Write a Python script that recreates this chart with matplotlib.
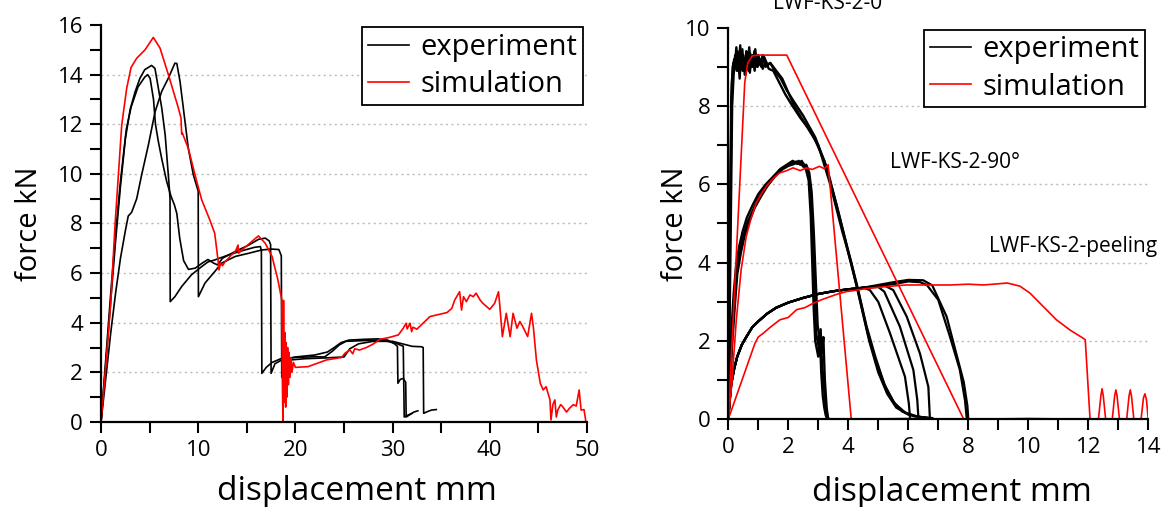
import matplotlib
matplotlib.use("Agg")
import matplotlib.pyplot as plt
from matplotlib.lines import Line2D
from matplotlib.ticker import MultipleLocator

plt.rcParams['font.family'] = ['Open Sans', 'DejaVu Sans']

# ---------------- left panel: experiments (black) ----------------
expA_x = [0, 0.5, 1.0, 1.5, 2.0, 2.6, 3.1, 3.8, 4.5, 4.8, 5.05, 5.4, 5.6, 5.9, 6.25, 6.75, 7.2, 7.55,
          7.8, 8.1, 8.5, 9.0, 9.7, 10.4, 11.0, 11.6, 12.0, 12.5, 13.8, 15.2, 16.2, 16.9, 17.3, 17.45,
          17.5, 17.9, 18.6, 20.0, 22.0, 23.3, 24.0, 24.7, 25.5, 27.0, 28.5, 29.5, 30.2, 30.5, 30.55,
          30.8, 31.1, 31.35, 31.4, 31.8, 32.2, 32.6]
expA_y = [0, 2.6, 5.2, 7.6, 9.7, 11.8, 12.7, 13.5, 13.9, 14.0, 13.85, 13.0, 12.0, 11.3, 10.6, 9.7, 9.1,
          8.75, 8.4, 7.4, 6.5, 6.15, 6.2, 6.4, 6.55, 6.4, 6.33, 6.6, 6.87, 7.13, 7.36, 7.41, 7.3, 7.15,
          1.96, 2.35, 2.5, 2.62, 2.7, 2.82, 3.0, 3.2, 3.3, 3.33, 3.35, 3.3, 3.15, 3.05, 1.56, 1.72,
          1.75, 1.6, 0.2, 0.3, 0.4, 0.45]

expB_x = [0, 0.5, 1, 1.5, 2, 2.5, 3, 3.5, 4, 4.5, 5.2, 5.55, 5.9, 6.25, 6.6, 7.0, 7.1, 7.12, 7.6, 8.3,
          9.3, 10.35, 11.0, 11.7, 13.1, 14.5, 15.8, 16.4, 16.5, 16.55, 17.0, 17.6, 18.5, 20.0, 22.0,
          23.0, 23.8, 24.5, 25.2, 27.0, 29.0, 30.5, 31.1, 31.2, 31.6, 32.0]
expB_y = [0, 2.4, 4.9, 7.3, 9.5, 11.4, 12.6, 13.3, 13.85, 14.2, 14.37, 14.25, 13.45, 12.65, 11.57, 9.57,
          9.0, 4.85, 5.05, 5.46, 5.93, 6.26, 6.45, 6.53, 6.73, 6.9, 7.04, 7.07, 6.9, 1.96, 2.2, 2.4,
          2.55, 2.6, 2.63, 2.62, 2.85, 3.1, 3.25, 3.28, 3.3, 3.15, 3.05, 0.2, 0.28, 0.35]

expC_x = [0, 0.5, 1.0, 1.5, 2.0, 2.5, 2.8, 3.15, 3.67, 4.18, 4.87, 5.56, 6.24, 6.93, 7.6, 7.8, 8.13,
          8.47, 8.98, 9.5, 10.0, 10.02, 10.7, 11.7, 12.4, 13.8, 15.2, 16.5, 17.5, 18.3, 18.55, 18.6,
          18.9, 19.5, 21.0, 23.0, 24.0, 25.0, 25.6, 26.5, 28.0, 30.0, 31.0, 32.0, 33.0, 33.15, 33.2,
          33.6, 34.0, 34.5]
expC_y = [0, 1.8, 3.6, 5.2, 6.6, 7.7, 8.3, 8.45, 9.0, 9.96, 11.16, 12.5, 13.32, 13.86, 14.46, 14.45,
          13.72, 12.65, 11.03, 9.96, 9.3, 5.05, 5.6, 6.06, 6.4, 6.67, 6.8, 6.93, 6.97, 6.95, 6.7, 1.8,
          2.3, 2.5, 2.55, 2.58, 2.6, 2.62, 2.95, 3.15, 3.25, 3.25, 3.15, 3.05, 3.03, 3.0, 0.35, 0.42,
          0.48, 0.5]

# ---------------- left panel: simulation (red) ----------------
simL_x = [0, 0.5, 1.0, 1.44, 2.13, 2.64, 3.09, 3.67, 4.53, 5.38, 6.07, 6.93, 7.96, 8.23, 8.3, 8.37,
          8.98, 9.67, 10.36, 11.2, 11.7, 12.1, 12.14, 12.3, 12.5, 12.76, 13.0, 13.4, 13.8, 14.1, 14.15,
          14.47, 15.0, 15.5, 16.2, 16.9, 17.6, 18.2, 18.6, 18.65, 18.72, 18.78, 18.85, 18.92, 19.0,
          19.05, 19.12, 19.2, 19.28, 19.35, 19.45, 19.55, 19.65, 19.8, 20.0, 21.3, 23.2, 24.76, 25.1,
          25.6, 25.9, 26.1, 26.6, 27.3, 28.0, 28.7, 29.7, 30.6, 31.1, 31.4, 31.5, 31.8, 31.96, 32.1,
          32.5, 33.85, 35.6, 36.1, 36.4, 36.9, 37.1, 37.3, 37.6, 37.96, 38.3, 38.6, 39.0, 39.3, 40.0,
          40.5, 40.9, 41.0, 41.3, 41.7, 42.1, 42.4, 42.8, 43.1, 43.4, 43.9, 44.3, 44.5, 44.8, 45.2,
          45.5, 45.8, 46.2, 46.3, 46.5, 46.7, 46.85, 47.0, 47.3, 47.5, 47.9, 48.2, 48.6, 48.9, 49.2,
          49.4, 49.7, 49.9]
simL_y = [0, 2.3, 4.8, 7.94, 11.97, 13.45, 14.29, 14.66, 15.0, 15.5, 15.07, 14.0, 12.65, 12.25, 11.6,
          11.64, 11.03, 9.96, 8.95, 8.14, 7.6, 6.33, 6.13, 6.4, 6.3, 6.46, 6.55, 6.73, 6.85, 7.13, 6.8,
          6.93, 7.1, 7.27, 7.5, 7.2, 6.67, 5.73, 4.92, 2.0, 0.0, 4.9, 0.8, 3.6, 0.6, 3.2, 1.0, 3.0, 1.5,
          2.8, 1.8, 2.6, 2.0, 2.4, 2.2, 2.23, 2.5, 2.6, 2.77, 2.9, 2.75, 2.95, 2.9, 3.0, 3.14, 3.33,
          3.41, 3.51, 3.78, 3.98, 3.75, 3.98, 3.64, 3.82, 3.74, 4.25, 4.41, 4.58, 4.92, 5.25, 4.51,
          5.05, 4.85, 5.12, 5.05, 5.19, 4.92, 4.78, 4.54, 4.78, 5.25, 4.85, 3.44, 4.38, 3.44, 4.38,
          3.78, 4.05, 3.84, 3.44, 4.38, 3.78, 2.5, 1.56, 1.29, 1.42, 0.89, 0.08, 0.7, 0.89, 0.2, 0.48,
          0.7, 0.62, 0.4, 0.55, 0.7, 0.64, 1.29, 0.48, 0.5, 0.0]

# ---------------- right panel: experiments (black) ----------------
e0_a_x = [0, 0.05, 0.1, 0.15, 0.2, 0.25, 0.3, 0.35, 0.4, 0.45, 0.5, 0.55, 0.6, 0.65, 0.7, 0.75, 0.8,
          0.85, 0.9, 0.95, 1.0, 1.1, 1.2, 1.3, 1.4, 1.6, 1.8, 2.0, 2.2, 2.6, 3.0, 3.4, 3.8, 4.1, 4.4,
          4.7, 5.0, 5.3, 5.6, 6.0, 6.4, 6.8]
e0_a_y = [0, 4.5, 8.2, 9.0, 9.2, 9.0, 9.4, 9.1, 9.55, 9.0, 9.3, 8.8, 9.4, 9.1, 9.5, 9.0, 9.3, 9.0,
          9.45, 9.1, 9.3, 9.0, 9.25, 9.05, 9.1, 8.9, 8.7, 8.35, 8.0, 7.5, 7.0, 6.0, 4.8, 4.0, 3.0, 2.0,
          1.2, 0.65, 0.3, 0.12, 0.05, 0.03]
e0_b_x = [0, 0.07, 0.13, 0.18, 0.23, 0.28, 0.33, 0.38, 0.43, 0.48, 0.53, 0.58, 0.63, 0.68, 0.73, 0.78,
          0.83, 0.88, 0.93, 0.98, 1.05, 1.15, 1.25, 1.35, 1.5, 1.7, 1.9, 2.1, 2.4, 2.8, 3.2, 3.6, 4.0,
          4.3, 4.6, 4.9, 5.2, 5.5, 5.8, 6.2, 6.6]
e0_b_y = [0, 4.0, 8.0, 8.8, 9.3, 8.9, 9.2, 8.7, 9.35, 8.9, 9.2, 8.8, 9.3, 8.9, 9.35, 9.0, 9.2, 8.9,
          9.3, 9.0, 9.2, 8.95, 9.15, 8.95, 8.9, 8.6, 8.3, 8.05, 7.7, 7.3, 6.6, 5.5, 4.3, 3.4, 2.4, 1.6,
          0.9, 0.45, 0.2, 0.08, 0.04]
e0_c_x = [0, 0.06, 0.12, 0.17, 0.22, 0.27, 0.32, 0.37, 0.42, 0.47, 0.52, 0.57, 0.62, 0.67, 0.72, 0.77,
          0.82, 0.87, 0.92, 0.97, 1.05, 1.15, 1.25, 1.4, 1.55, 1.75, 1.95, 2.2, 2.5, 2.9, 3.3, 3.7,
          4.05, 4.35, 4.65, 4.95, 5.25, 5.55, 5.9, 6.3, 6.7]
e0_c_y = [0, 5.0, 8.6, 9.1, 9.0, 9.5, 8.9, 9.3, 9.1, 9.45, 8.9, 9.2, 9.0, 9.35, 8.85, 9.2, 9.0, 9.4,
          9.0, 9.25, 9.05, 9.3, 9.0, 9.1, 8.9, 8.7, 8.4, 8.1, 7.75, 7.2, 6.4, 5.2, 4.1, 3.2, 2.2, 1.4,
          0.8, 0.4, 0.17, 0.07, 0.03]

e90_a_x = [0, 0.06, 0.11, 0.2, 0.28, 0.4, 0.5, 0.65, 0.83, 1.0, 1.27, 1.5, 1.71, 1.9, 2.1, 2.27, 2.4,
           2.5, 2.6, 2.68, 2.75, 2.8, 2.85, 2.9, 2.95, 3.0, 3.05, 3.1, 3.15, 3.2, 3.25, 3.3]
e90_a_y = [0, 0.84, 2.0, 3.0, 3.82, 4.3, 4.67, 5.05, 5.35, 5.65, 5.95, 6.15, 6.37, 6.45, 6.55, 6.58,
           6.5, 6.54, 6.35, 6.1, 5.2, 4.0, 2.8, 2.0, 1.8, 1.6, 2.2, 1.2, 0.6, 0.3, 0.1, 0]
e90_b_x = [0, 0.05, 0.1, 0.18, 0.26, 0.36, 0.48, 0.62, 0.8, 1.0, 1.25, 1.5, 1.75, 1.95, 2.15, 2.3, 2.45,
           2.55, 2.62, 2.7, 2.76, 2.82, 2.88, 2.93, 3.0, 3.08, 3.12, 3.18, 3.24, 3.3, 3.35]
e90_b_y = [0, 1.0, 2.2, 3.2, 3.9, 4.4, 4.8, 5.15, 5.45, 5.75, 6.0, 6.2, 6.4, 6.5, 6.6, 6.52, 6.6, 6.45,
           6.4, 6.2, 5.6, 4.4, 3.2, 2.2, 1.9, 2.3, 1.5, 0.9, 0.4, 0.1, 0]
e90_c_x = [0, 0.07, 0.12, 0.22, 0.3, 0.42, 0.55, 0.7, 0.88, 1.1, 1.3, 1.55, 1.8, 2.0, 2.2, 2.35, 2.5,
           2.6, 2.7, 2.78, 2.85, 2.92, 2.98, 3.05, 3.12, 3.17, 3.22, 3.28, 3.33]
e90_c_y = [0, 0.8, 1.8, 2.9, 3.7, 4.25, 4.7, 5.05, 5.4, 5.7, 5.95, 6.2, 6.38, 6.47, 6.52, 6.6, 6.45,
           6.5, 6.3, 5.8, 4.8, 3.5, 2.4, 2.0, 1.7, 2.1, 1.0, 0.3, 0]

peel_rise_x = [0, 0.05, 0.1, 0.2, 0.3, 0.45, 0.6, 0.8, 1.0, 1.3, 1.6, 2.0, 2.5, 3.0, 3.5, 4.0, 4.5]
peel_rise_y = [0, 0.5, 0.9, 1.3, 1.6, 1.9, 2.1, 2.35, 2.5, 2.7, 2.85, 2.98, 3.1, 3.2, 3.27, 3.32, 3.36]
peel_tail1_x = [4.72, 5.0, 5.39, 5.89, 6.02, 6.06]
peel_tail1_y = [3.3, 3.0, 2.2, 1.09, 0.4, 0.02]
peel_tail2_x = [5.0, 5.2, 5.72, 6.17, 6.3, 6.34]
peel_tail2_y = [3.38, 3.26, 2.37, 1.26, 0.5, 0.02]
peel_tail3_x = [5.2, 5.5, 5.95, 6.39, 6.67, 6.72]
peel_tail3_y = [3.42, 3.3, 2.62, 1.68, 0.83, 0.04]
peel_tail4_x = [5.5, 6.0, 6.4, 6.62, 7.0, 7.39, 7.72, 7.89, 7.95]
peel_tail4_y = [3.45, 3.52, 3.5, 3.43, 3.05, 2.11, 1.26, 0.49, 0.02]
peel_tail5_x = [5.5, 6.0, 6.5, 6.8, 7.28, 7.6, 7.85, 7.97, 8.0]
peel_tail5_y = [3.5, 3.56, 3.55, 3.42, 2.62, 1.68, 0.95, 0.35, 0.02]

# ---------------- right panel: simulations (red) ----------------
sim0_x = [0, 0.55, 0.65, 0.8, 1.0, 1.95, 7.85]
sim0_y = [0, 8.6, 9.1, 9.28, 9.3, 9.3, 0]
sim90_x = [0, 0.11, 0.27, 0.43, 0.6, 0.75, 0.93, 1.1, 1.27, 1.5, 1.71, 1.95, 2.16, 2.4, 2.6, 2.8,
           3.04, 3.2, 3.33, 4.1, 6.0, 8.0, 10.0, 12.0, 14.0]
sim90_y = [0, 0.84, 2.55, 3.82, 4.67, 5.1, 5.52, 5.75, 5.95, 6.15, 6.29, 6.35, 6.42, 6.35, 6.42, 6.38,
           6.46, 6.4, 6.5, 0, 0.02, 0, 0.02, 0, 0]
simP_x = [0, 0.89, 1.0, 1.17, 1.4, 1.72, 2.0, 2.28, 2.55, 2.83, 3.1, 3.39, 3.65, 3.94, 4.3, 4.61,
          5.28, 5.94, 6.6, 7.4, 8.0, 8.5, 9.0, 9.3, 9.72, 10.06, 10.5, 10.94, 11.39, 11.83, 11.9,
          12.06, 12.34, 12.42, 12.46, 12.5, 12.58, 12.8, 12.88, 12.92, 12.96, 13.04, 13.28, 13.36,
          13.4, 13.44, 13.52, 13.76, 13.84, 13.89, 13.94, 14.0]
simP_y = [0, 1.94, 2.1, 2.2, 2.35, 2.54, 2.6, 2.8, 2.85, 2.96, 3.05, 3.13, 3.2, 3.26, 3.3, 3.34, 3.39,
          3.43, 3.43, 3.43, 3.45, 3.43, 3.46, 3.48, 3.4, 3.22, 2.88, 2.54, 2.28, 2.07, 2.03, 0, 0,
          0.6, 0.78, 0.6, 0, 0, 0.6, 0.75, 0.6, 0, 0, 0.6, 0.75, 0.6, 0, 0, 0.55, 0.65, 0.5, 0]

grid_left = [2, 4, 6, 8, 10, 12, 14]
grid_right = [2, 4, 6, 8]

fig = plt.figure(figsize=(11.68, 5.07), dpi=100)
ax1 = fig.add_axes([0.0865, 0.1677, 0.416, 0.783])
ax2 = fig.add_axes([0.6235, 0.173, 0.3596, 0.7724])

ax1.plot(expA_x, expA_y, color='black', lw=1.2)
ax1.plot(expB_x, expB_y, color='black', lw=1.2)
ax1.plot(expC_x, expC_y, color='black', lw=1.2)
ax1.plot(simL_x, simL_y, color='red', lw=1.2)

for xs, ys in [(e0_a_x, e0_a_y), (e0_b_x, e0_b_y), (e0_c_x, e0_c_y),
               (e90_a_x, e90_a_y), (e90_b_x, e90_b_y), (e90_c_x, e90_c_y)]:
    ax2.plot(xs, ys, color='black', lw=1.7)
for tx, ty in [(peel_tail1_x, peel_tail1_y), (peel_tail2_x, peel_tail2_y), (peel_tail3_x, peel_tail3_y),
               (peel_tail4_x, peel_tail4_y), (peel_tail5_x, peel_tail5_y)]:
    ax2.plot(peel_rise_x + tx, peel_rise_y + ty, color='black', lw=1.6)
ax2.plot(sim0_x, sim0_y, color='red', lw=1.2)
ax2.plot(sim90_x, sim90_y, color='red', lw=1.2)
ax2.plot(simP_x, simP_y, color='red', lw=1.2)

ax1.set_xlim(0, 50)
ax1.set_ylim(0, 16)
ax1.xaxis.set_major_locator(MultipleLocator(10))
ax1.xaxis.set_minor_locator(MultipleLocator(5))
ax1.yaxis.set_major_locator(MultipleLocator(2))
ax1.yaxis.set_minor_locator(MultipleLocator(1))

ax2.set_xlim(0, 14)
ax2.set_ylim(0, 10)
ax2.xaxis.set_major_locator(MultipleLocator(2))
ax2.xaxis.set_minor_locator(MultipleLocator(1))
ax2.yaxis.set_major_locator(MultipleLocator(2))
ax2.yaxis.set_minor_locator(MultipleLocator(1))

for ax, gl in ((ax1, grid_left), (ax2, grid_right)):
    for g in gl:
        ax.axhline(g, linestyle=(0, (1.5, 2.5)), color='#bbbbbb', lw=1, zorder=0)
    for s in ('top', 'right'):
        ax.spines[s].set_visible(False)
    for s in ('left', 'bottom'):
        ax.spines[s].set_linewidth(1.6)
    ax.tick_params(which='both', direction='out', length=8, width=1.5, labelsize=16, pad=5)
    ax.set_xlabel('displacement mm', fontsize=24)
    ax.set_ylabel('force kN', fontsize=21)
    handles = [Line2D([], [], color='black', lw=1.2), Line2D([], [], color='red', lw=1.2)]
    leg = ax.legend(handles, ['experiment', 'simulation'], loc='upper right', fontsize=21,
                    fancybox=False, framealpha=1, edgecolor='black', handlelength=1.4,
                    borderaxespad=0, labelspacing=0.28, handletextpad=0.4, borderpad=0.2,
                    bbox_to_anchor=(0.992, 0.995))
    leg.get_frame().set_linewidth(1.3)

ax1.xaxis.set_label_coords(0.527, -0.133)
ax2.xaxis.set_label_coords(0.533, -0.145)
ax1.yaxis.set_label_coords(-0.117, 0.5)
ax2.yaxis.set_label_coords(-0.092, 0.5)

ax2.text(5.39, 6.55, 'LWF-KS-2-90°', fontsize=15, va='center', ha='left')
ax2.text(8.7, 4.4, 'LWF-KS-2-peeling', fontsize=15, va='center', ha='left', clip_on=False)
fig.text(0.712, 1 - 9 / 507, 'LWF-KS-2-0°', fontsize=15, va='baseline', ha='center')

fig.savefig('out.png', dpi=100)
